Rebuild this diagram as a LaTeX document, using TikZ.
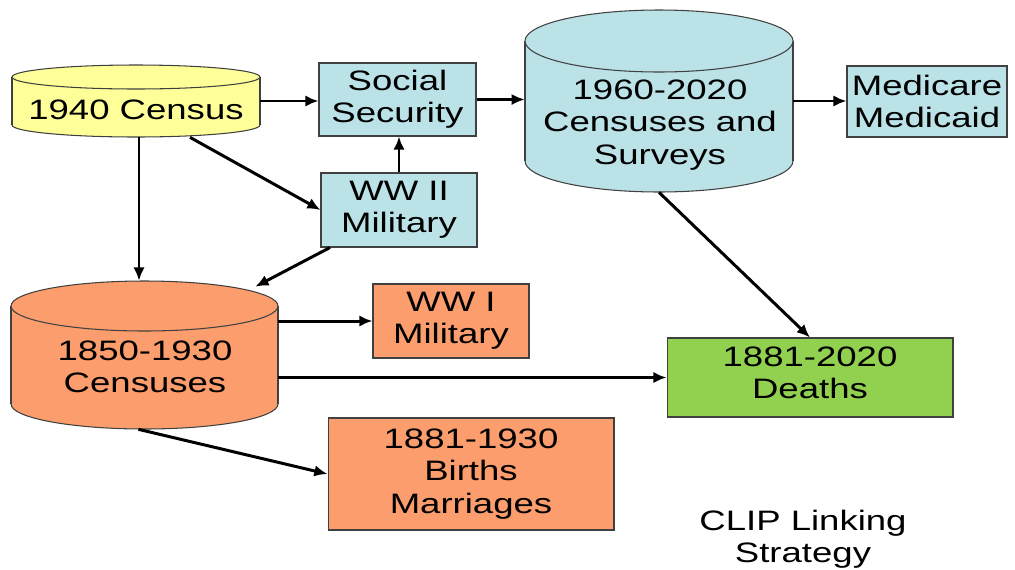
\documentclass[tikz,border=0pt]{standalone}
\usepackage{fontspec}
\newfontfamily\lab[FakeStretch=1.3]{Liberation Sans}
\usetikzlibrary{arrows.meta}
\definecolor{cyel}{HTML}{FFFF99}
\definecolor{cblue}{HTML}{BAE2E7}
\definecolor{corange}{HTML}{FB9D6D}
\definecolor{cgreen}{HTML}{92D050}
\begin{document}
\begin{tikzpicture}[x=0.02cm,y=-0.02cm,
  txt/.style={font=\lab\fontsize{16}{18.4}\selectfont, align=center, text=black},
  box/.style={txt, draw=black!75, line width=0.6pt, inner sep=0pt},
  area/.style={inner sep=0pt, draw=none},
  cyl/.style={draw=black!75, line width=0.6pt},
  arr/.style={line width=1.7pt, -{Latex[length=7.5pt,width=6.5pt]}}]
\useasboundingbox (0,0) rectangle (1015,569);
% 1940 census cylinder
\filldraw[cyl, fill=cyel] (136,125) ellipse [x radius=2.48cm, y radius=0.24cm];
\fill[cyel] (12,77) rectangle (260,125);
\draw[cyl] (12,77) -- (12,125) (260,77) -- (260,125);
\filldraw[cyl, fill=cyel] (136,77) ellipse [x radius=2.48cm, y radius=0.24cm];
\node[area, minimum width=4.96cm, minimum height=1.44cm] (c1940) at (136,101) {};
\node[txt] (t1940) at (136,110) {1940 Census};
% 1960-2020 cylinder
\filldraw[cyl, fill=cblue] (659,161) ellipse [x radius=2.68cm, y radius=0.62cm];
\fill[cblue] (525,41) rectangle (793,161);
\draw[cyl] (525,41) -- (525,161) (793,41) -- (793,161);
\filldraw[cyl, fill=cblue] (659,41) ellipse [x radius=2.68cm, y radius=0.62cm];
\node[area, minimum width=5.36cm, minimum height=3.64cm] (c1960) at (659,101) {};
\node[txt] (t1960) at (660,125) {1960-2020\\Censuses and\\Surveys};
% 1850-1930 cylinder
\filldraw[cyl, fill=corange] (144.5,404) ellipse [x radius=2.67cm, y radius=0.5cm];
\fill[corange] (11,306) rectangle (278,404);
\draw[cyl] (11,306) -- (11,404) (278,306) -- (278,404);
\filldraw[cyl, fill=corange] (144.5,306) ellipse [x radius=2.67cm, y radius=0.5cm];
\node[area, minimum width=5.34cm, minimum height=2.96cm] (c1850) at (144.5,355) {};
\node[txt] (t1850) at (145,367) {1850-1930\\Censuses};
% boxes
\node[box, fill=cblue, minimum width=3.14cm, minimum height=1.46cm] (ss) at (397.5,99.5) {Social\\Security};
\node[box, fill=cblue, minimum width=3.12cm, minimum height=1.48cm] (ww2) at (399,210) {WW II\\Military};
\node[box, fill=cblue, minimum width=3.2cm, minimum height=1.42cm] (med) at (927,101.5) {Medicare\\Medicaid};
\node[box, fill=corange, minimum width=3.12cm, minimum height=1.48cm] (ww1) at (451,321) {WW I\\Military};
\node[box, fill=corange, minimum width=5.72cm, minimum height=2.24cm] (births) at (471,474) {1881-1930\\Births\\Marriages};
\node[box, fill=cgreen, minimum width=5.72cm, minimum height=1.58cm] (deaths) at (810,377.5) {};
\node[txt] (tdeaths) at (deaths) [yshift=0.09cm] {1881-2020\\Deaths};
\node[txt] (clip) at (803,539) {CLIP Linking\\Strategy};
% arrows
\draw[arr] (c1940.east) -- (c1940.east -| ss.west);
\draw[arr] (ss.east) -- (ss.east -| c1960.west);
\draw[arr] (c1960.east) -- (c1960.east -| med.west);
\draw[arr] (ww2.north) -- (ww2.north |- ss.south);
\draw[arr] ([xshift=1.08cm]c1940.south) -- (ww2.west);
\draw[arr] ([xshift=0.06cm]c1940.south) -- ([xshift=0.06cm]c1940.south |- c1850.north);
\draw[arr] ([xshift=-1.38cm]ww2.south) -- ([xshift=-0.46cm,yshift=-0.12cm]c1850.north east);
\draw[arr] (ww1.west -| c1850.east) -- (ww1.west);
\draw[arr] (deaths.west -| c1850.east) -- (deaths.west);
\draw[arr] ([xshift=-0.12cm]c1850.south) -- (births.west);
\draw[arr] (c1960.south) -- (deaths.north);
\end{tikzpicture}
\end{document}
